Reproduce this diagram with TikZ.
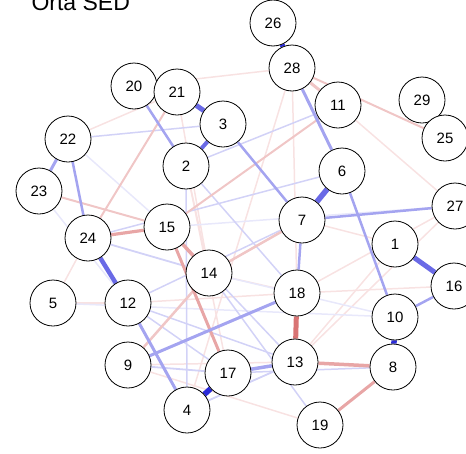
\documentclass[tikz,border=0pt]{standalone}
\usepackage{fontspec}
\setmainfont{Liberation Sans}
\usetikzlibrary{backgrounds}
\definecolor{bA}{HTML}{2B2BD9}
\definecolor{bB}{HTML}{6A6AE6}
\definecolor{bC}{HTML}{A4A4F0}
\definecolor{bD}{HTML}{D2D2F7}
\definecolor{bE}{HTML}{E8E8FB}
\definecolor{rA}{HTML}{D97474}
\definecolor{rB}{HTML}{E8A6A6}
\definecolor{rC}{HTML}{F0C6C6}
\definecolor{rD}{HTML}{F8E2E2}
\tikzset{
  vtx/.style={circle,draw=black,fill=white,line width=0.8pt,minimum size=46pt,inner sep=0pt,font=\fontsize{15}{16}\selectfont},
  e/.style={line width=#1},
}
\begin{document}
\begin{tikzpicture}[x=1pt,y=-1pt]
\useasboundingbox (0,0) rectangle (466,453);
\node[anchor=base west,font=\fontsize{23}{24}\selectfont] (title) at (28,10) {Orta SED};
\node[vtx] (n26) at (273,23) {26};
\node[vtx] (n28) at (292,68) {28};
\node[vtx] (n20) at (134,86) {20};
\node[vtx] (n21) at (177,92) {21};
\node[vtx] (n3) at (223,124) {3};
\node[vtx] (n11) at (338,105) {11};
\node[vtx] (n29) at (422,100) {29};
\node[vtx] (n25) at (445,138) {25};
\node[vtx] (n22) at (68,139) {22};
\node[vtx] (n2) at (186,166) {2};
\node[vtx] (n6) at (342,171) {6};
\node[vtx] (n23) at (39,191) {23};
\node[vtx] (n27) at (455,206) {27};
\node[vtx] (n7) at (302,220) {7};
\node[vtx] (n1) at (395,244) {1};
\node[vtx] (n16) at (454,286) {16};
\node[vtx] (n15) at (167,227) {15};
\node[vtx] (n24) at (88,238) {24};
\node[vtx] (n14) at (209,273) {14};
\node[vtx] (n18) at (297,293) {18};
\node[vtx] (n12) at (128,303) {12};
\node[vtx] (n5) at (53,303) {5};
\node[vtx] (n9) at (128,365) {9};
\node[vtx] (n17) at (228,373) {17};
\node[vtx] (n4) at (187,410) {4};
\node[vtx] (n10) at (395,317) {10};
\node[vtx] (n13) at (295,362) {13};
\node[vtx] (n8) at (393,367) {8};
\node[vtx] (n19) at (320,425) {19};
\begin{pgfonlayer}{background}
% very faint edges
\draw[rD,e=1.5] (n11) -- (n27);
\draw[rD,e=1.5] (n22) -- (n21);
\draw[rD,e=1.5] (n28) -- (n18);
\draw[rD,e=1.5] (n18) -- (n16);
\draw[rD,e=1.5] (n18) -- (n27);
\draw[rD,e=1.5] (n7) -- (n1);
\draw[rD,e=1.5] (n5) -- (n12);
\draw[rD,e=1.5] (n12) -- (n18);
\draw[rD,e=1.5] (n2) -- (n17);
\draw[rD,e=1.5] (n21) -- (n14);
\draw[rD,e=1.5] (n13) -- (n27);
\draw[rD,e=1.5] (n14) -- (n18);
\draw[rD,e=1.5] (n9) -- (n13);
\draw[rD,e=1.5] (n9) -- (n19);
\draw[rD,e=1.5] (n2) -- (n14);
\draw[rD,e=1.5] (n20) -- (n28);
\draw[rD,e=1.5] (n28) -- (n4);
\draw[rD,e=1.5] (n1) -- (n13);
\draw[rD,e=1.5] (n24) -- (n5);
\draw[bE,e=1.5] (n22) -- (n15);
\draw[bE,e=1.5] (n23) -- (n12);
\draw[bE,e=1.5] (n5) -- (n10);
\draw[bE,e=1.5] (n14) -- (n10);
\draw[bE,e=1.5] (n15) -- (n27);
\draw[bD,e=1.8] (n24) -- (n14);
\draw[bD,e=1.8] (n9) -- (n17);
\draw[bD,e=1.8] (n4) -- (n13);
\draw[bD,e=1.5] (n17) -- (n8);
\draw[bD,e=1.5] (n22) -- (n3);
\draw[bD,e=1.5] (n2) -- (n18);
\draw[bD,e=1.5] (n12) -- (n7);
\draw[bD,e=1.5] (n12) -- (n17);
\draw[bD,e=1.5] (n24) -- (n6);
\draw[bD,e=1.5] (n12) -- (n13);
\draw[bD,e=1.5] (n2) -- (n11);
\draw[bD,e=1.5] (n14) -- (n19);
\draw[bD,e=1.5] (n2) -- (n4);
\draw[bD,e=1.5] (n15) -- (n13);
% medium
\draw[rC,e=2.5] (n9) -- (n14);
\draw[rC,e=2.5] (n14) -- (n7);
\draw[rC,e=3] (n28) -- (n11);
\draw[rC,e=2] (n28) -- (n25);
\draw[rC,e=2] (n24) -- (n21);
\draw[rC,e=2] (n23) -- (n15);
\draw[rC,e=2] (n15) -- (n11);
\draw[rB,e=3] (n15) -- (n17);
\draw[rB,e=3.5] (n15) -- (n14);
\draw[rB,e=3.2] (n24) -- (n15);
\draw[rB,e=3.5] (n13) -- (n8);
\draw[rB,e=3] (n8) -- (n19);
\draw[rA,e=5] (n18) -- (n13);
\draw[bC,e=3] (n28) -- (n6);
\draw[bC,e=2.5] (n20) -- (n2);
\draw[bC,e=3] (n22) -- (n23);
\draw[bC,e=2.5] (n22) -- (n24);
\draw[bC,e=3] (n12) -- (n4);
\draw[bC,e=3.5] (n17) -- (n13);
\draw[bC,e=2.5] (n16) -- (n10);
\draw[bC,e=2.5] (n6) -- (n10);
\draw[bC,e=2.5] (n7) -- (n27);
\draw[bC,e=2.5] (n7) -- (n18);
\draw[bC,e=3] (n9) -- (n18);
\draw[bC,e=2.5] (n3) -- (n7);
\draw[bB,e=5] (n21) -- (n3);
\draw[bB,e=4] (n3) -- (n2);
\draw[bB,e=5.5] (n6) -- (n7);
\draw[bB,e=4.5] (n24) -- (n12);
\draw[bB,e=5] (n1) -- (n16);
\draw[bA,e=5] (n26) -- (n28);
\draw[bA,e=5.5] (n4) -- (n17);
\draw[bA,e=5.5] (n10) -- (n8);
\end{pgfonlayer}
\end{tikzpicture}
\end{document}
